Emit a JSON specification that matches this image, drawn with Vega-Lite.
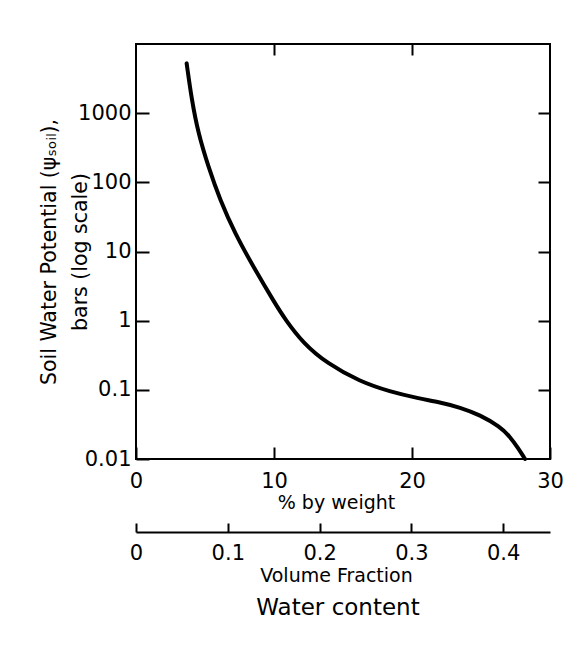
{
  "$schema": "https://vega.github.io/schema/vega-lite/v6.json",
  "autosize": {"type": "none"},
  "width": 414,
  "height": 415,
  "padding": {"left": 136, "top": 44, "right": 33, "bottom": 194},
  "background": "white",
  "config": {
    "font": "DejaVu Sans",
    "view": {"stroke": "black", "strokeWidth": 2},
    "axis": {
      "domain": false,
      "grid": false,
      "tickColor": "black",
      "tickWidth": 2,
      "labelColor": "black",
      "titleColor": "black",
      "labelFont": "DejaVu Sans",
      "titleFont": "DejaVu Sans",
      "titleFontWeight": "normal",
      "labelFlush": false,
      "labelOverlap": false
    }
  },
  "title": {
    "text": "Water content",
    "orient": "bottom",
    "frame": "group",
    "anchor": "middle",
    "dx": -5,
    "offset": 12,
    "font": "DejaVu Sans",
    "fontSize": 23,
    "fontWeight": "normal",
    "color": "black"
  },
  "data": {
    "values": [
      {"weight": 3.67, "psi": 5250},
      {"weight": 4.04, "psi": 1550},
      {"weight": 4.51, "psi": 512},
      {"weight": 5.24, "psi": 168},
      {"weight": 6.09, "psi": 55.5},
      {"weight": 7.17, "psi": 18.3},
      {"weight": 8.5, "psi": 6.03},
      {"weight": 10.07, "psi": 1.78},
      {"weight": 10.8, "psi": 1.05},
      {"weight": 12.12, "psi": 0.471},
      {"weight": 13.82, "psi": 0.243},
      {"weight": 16.23, "psi": 0.131},
      {"weight": 18.41, "psi": 0.094},
      {"weight": 20.45, "psi": 0.0755},
      {"weight": 22.03, "psi": 0.066},
      {"weight": 23.48, "psi": 0.0558},
      {"weight": 24.93, "psi": 0.0433},
      {"weight": 26.38, "psi": 0.0293},
      {"weight": 27.1, "psi": 0.021},
      {"weight": 27.7, "psi": 0.0143},
      {"weight": 28.19, "psi": 0.01}
    ]
  },
  "layer": [
    {
      "mark": {"type": "line", "color": "black", "strokeWidth": 4, "strokeCap": "round", "interpolate": "basis"},
      "encoding": {
        "x": {
          "field": "weight",
          "type": "quantitative",
          "scale": {"domain": [0, 30], "nice": false},
          "axis": {
            "orient": "bottom",
            "values": [0, 10, 20, 30],
            "tickSize": -12,
            "labelPadding": 23,
            "labelFontSize": 21,
            "title": "% by weight",
            "titleFontSize": 19,
            "titlePadding": 2,
            "titleX": 200
          }
        },
        "y": {
          "field": "psi",
          "type": "quantitative",
          "scale": {"type": "log", "domain": [0.01, 10000], "nice": false},
          "axis": {
            "orient": "left",
            "values": [0.01, 0.1, 1, 10, 100, 1000],
            "format": "~g",
            "tickSize": -13,
            "labelPadding": 18,
            "labelFontSize": 21,
            "title": ["Soil Water Potential (ψₛₒᵢₗ),", "bars (log scale)"],
            "titleFontSize": 20.5,
            "titleLineHeight": 31,
            "titleX": -77
          }
        }
      }
    },
    {
      "mark": {"type": "point", "opacity": 0},
      "encoding": {
        "x": {
          "datum": 0,
          "type": "quantitative",
          "scale": {"domain": [0, 0.451], "nice": false},
          "axis": {
            "orient": "bottom",
            "offset": 73,
            "domain": true,
            "domainColor": "black",
            "domainWidth": 2,
            "values": [0, 0.1, 0.2, 0.3, 0.4],
            "format": "~g",
            "tickSize": -9,
            "labelPadding": 19,
            "labelFontSize": 21,
            "title": "Volume Fraction",
            "titleFontSize": 19,
            "titlePadding": 3,
            "titleX": 200
          }
        }
      }
    },
    {
      "mark": {"type": "point", "opacity": 0},
      "encoding": {
        "x": {
          "datum": 0,
          "type": "quantitative",
          "scale": {"domain": [0, 30], "nice": false},
          "axis": {"orient": "top", "values": [10, 20], "tickSize": -11, "labels": false, "title": null}
        },
        "y": {
          "datum": 1,
          "type": "quantitative",
          "scale": {"type": "log", "domain": [0.01, 10000], "nice": false},
          "axis": {"orient": "right", "values": [0.1, 1, 10, 100, 1000], "tickSize": -12, "labels": false, "title": null}
        }
      }
    }
  ],
  "resolve": {
    "scale": {"x": "independent", "y": "independent"},
    "axis": {"x": "independent", "y": "independent"}
  }
}
